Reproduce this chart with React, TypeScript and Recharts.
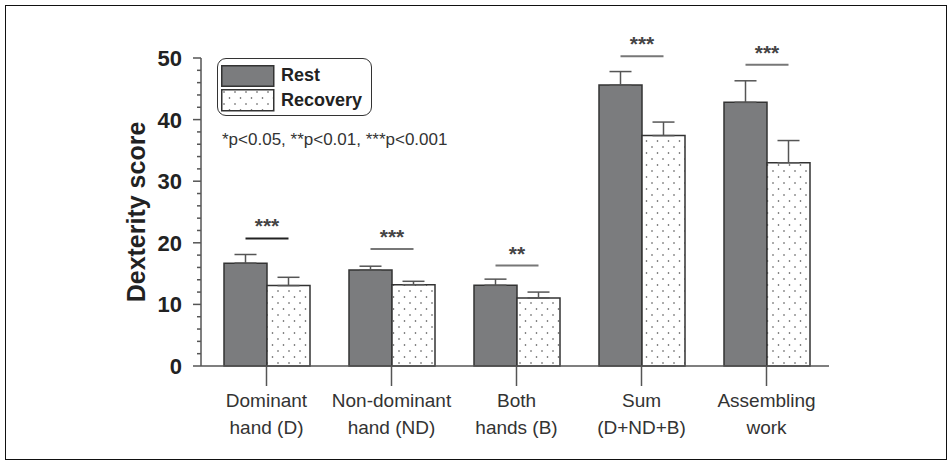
import React from "react";
import {
  Bar,
  BarChart,
  ErrorBar,
  LabelList,
  Legend,
  XAxis,
  YAxis,
} from "recharts";

const categories = ["Dominant", "Non-dominant", "Both", "Sum", "Assembling"];
const categorySub = ["hand (D)", "hand (ND)", "hands (B)", "(D+ND+B)", "work"];
const restValues = [16.7, 15.6, 13.1, 45.6, 42.8];
const restErrors = [1.4, 0.6, 1.0, 2.2, 3.5];
const recoveryValues = [13.05, 13.2, 11.05, 37.4, 33.0];
const recoveryErrors = [1.35, 0.55, 0.95, 2.2, 3.6];
const sigLevels = [20.7, 19.0, 16.3, 50.3, 48.9];
const sigMarks = ["***", "***", "**", "***", "***"];
const yTicks = [0, 2, 4, 6, 8, 10, 12, 14, 16, 18, 20, 22, 24, 26, 28, 30, 32, 34, 36, 38, 40, 42, 44, 46, 48, 50];

const FONT = '"Liberation Sans", Arial, sans-serif';
const REST_FILL = "#7b7c7e";

const data = categories.map((name, i) => ({
  name,
  sub: categorySub[i],
  rest: restValues[i],
  restErr: [0, restErrors[i]],
  recovery: recoveryValues[i],
  recoveryErr: [0, recoveryErrors[i]],
}));

function YTick(props: any) {
  const { x, y, payload } = props;
  const major = payload.value % 10 === 0;
  return (
    <g>
      <line x1={x - (major ? 8 : 4)} x2={x} y1={y} y2={y} stroke="#555" strokeWidth={1.5} />
      {major && (
        <text
          x={x - 19}
          y={y}
          dy="0.36em"
          textAnchor="end"
          fontFamily={FONT}
          fontWeight="bold"
          fontSize={22}
          fill="#222"
        >
          {payload.value}
        </text>
      )}
    </g>
  );
}

function XTick(props: any) {
  const { x, y, payload, index } = props;
  return (
    <text x={x} y={y} textAnchor="middle" fontFamily={FONT} fontSize={19} fill="#333">
      <tspan x={x} dy={21}>
        {payload.value}
      </tspan>
      <tspan x={x} dy={27}>
        {categorySub[index]}
      </tspan>
    </text>
  );
}

function SigMark(props: any) {
  const { x, y, width, height, value, index } = props;
  const perUnit = height / value;
  const base = y + height;
  const ly = base - sigLevels[index] * perUnit;
  const x1 = x + width / 2;
  const x2 = x + width * 1.5;
  return (
    <g>
      <line x1={x1} x2={x2} y1={ly} y2={ly} stroke={index === 0 ? "#222" : "#777"} strokeWidth={2} />
      <text
        x={(x1 + x2) / 2}
        y={ly - 5}
        textAnchor="middle"
        fontFamily={FONT}
        fontWeight="bold"
        fontSize={21}
        fill="#444"
      >
        {sigMarks[index]}
      </text>
    </g>
  );
}

function LegendBox() {
  return (
    <div style={{ position: "relative", fontFamily: FONT }}>
      <div
        style={{
          position: "absolute",
          left: 0,
          top: 0,
          width: 153,
          height: 56,
          border: "1.5px solid #333",
          borderRadius: 9,
        }}
      >
        <svg width={60} height={52} style={{ position: "absolute", left: 2.5, top: 6 }}>
          <defs>
            <pattern id="dotsLegend" width="11" height="12" patternUnits="userSpaceOnUse">
              <rect width="11" height="12" fill="#fff" />
              <circle cx="3" cy="3" r="0.8" fill="#444" />
              <circle cx="8.5" cy="9" r="0.8" fill="#444" />
            </pattern>
          </defs>
          <rect x={0.75} y={0.75} width={52} height={20.5} fill={REST_FILL} stroke="#333" strokeWidth={1.5} />
          <rect x={0.75} y={24.75} width={52} height={21} fill="url(#dotsLegend)" stroke="#333" strokeWidth={1.5} />
        </svg>
        <div style={{ position: "absolute", left: 63, top: 6, fontSize: 18, fontWeight: "bold", color: "#222", lineHeight: "21px" }}>
          Rest
        </div>
        <div style={{ position: "absolute", left: 63, top: 31, fontSize: 18, fontWeight: "bold", color: "#222", lineHeight: "21px" }}>
          Recovery
        </div>
      </div>
      <div
        style={{
          position: "absolute",
          left: 5,
          top: 72,
          fontSize: 17,
          color: "#333",
          whiteSpace: "nowrap",
          lineHeight: "20px",
        }}
      >
        *p&lt;0.05, **p&lt;0.01, ***p&lt;0.001
      </div>
    </div>
  );
}

export default function App() {
  return (
    <div style={{ position: "absolute", left: 0, top: 0, width: 952, height: 466, background: "#fff" }}>
      <div
        style={{
          position: "absolute",
          left: 5,
          top: 5,
          width: 940,
          height: 453,
          border: "1.5px solid #111",
        }}
      />
      <BarChart
        width={952}
        height={466}
        data={data}
        margin={{ top: 58, right: 123, bottom: 40, left: 121 }}
        barGap={0}
        barSize={43}
      >
        <defs>
          <pattern id="dots" width="11" height="12" patternUnits="userSpaceOnUse">
            <rect width="11" height="12" fill="#fff" />
            <circle cx="3" cy="3" r="0.8" fill="#444" />
            <circle cx="8.5" cy="9" r="0.8" fill="#444" />
          </pattern>
        </defs>
        <XAxis
          dataKey="name"
          interval={0}
          height={60}
          padding={{ left: 3, right: 0 }}
          tickSize={20}
          tickMargin={0}
          axisLine={{ stroke: "#555", strokeWidth: 1.5 }}
          tickLine={{ stroke: "#555", strokeWidth: 1.5 }}
          tick={<XTick />}
        />
        <YAxis
          width={80}
          domain={[0, 50]}
          ticks={yTicks}
          interval={0}
          tickSize={0}
          tickMargin={0}
          tickLine={false}
          axisLine={{ stroke: "#555", strokeWidth: 1.5 }}
          tick={<YTick />}
          label={{
            content: (p: any) => {
              const vb = p.viewBox || { x: 121, y: 58, height: 308 };
              const cx = vb.x + 24;
              const cy = vb.y + vb.height / 2;
              return (
                <text
                  transform={`translate(${cx},${cy}) rotate(-90)`}
                  textAnchor="middle"
                  fontFamily={FONT}
                  fontWeight="bold"
                  fontSize={25}
                  fill="#222"
                >
                  Dexterity score
                </text>
              );
            },
          }}
        />
        <Legend
          layout="vertical"
          align="center"
          verticalAlign="middle"
          content={() => <LegendBox />}
          wrapperStyle={{ position: "absolute", left: 217, top: 58, width: 260, height: 95 }}
        />
        <Bar dataKey="rest" name="Rest" fill={REST_FILL} stroke="#333" strokeWidth={1.5} isAnimationActive={false}>
          <ErrorBar dataKey="restErr" direction="y" width={11} stroke="#555" strokeWidth={1.5} />
          <LabelList dataKey="rest" content={<SigMark />} />
        </Bar>
        <Bar dataKey="recovery" name="Recovery" fill="url(#dots)" stroke="#333" strokeWidth={1.5} isAnimationActive={false}>
          <ErrorBar dataKey="recoveryErr" direction="y" width={11} stroke="#555" strokeWidth={1.5} />
        </Bar>
      </BarChart>
    </div>
  );
}
